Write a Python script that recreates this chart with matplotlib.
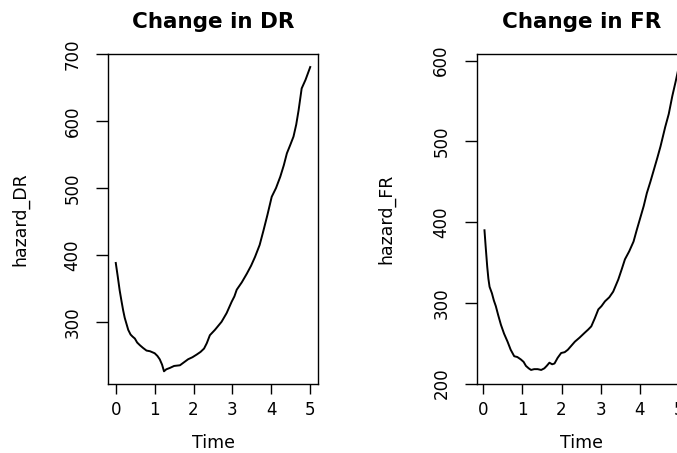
import matplotlib
matplotlib.use("Agg")
import matplotlib.pyplot as plt

# ---- data ----
time_dr = [0.00, 0.05, 0.10, 0.15, 0.19, 0.23, 0.27, 0.32, 0.38, 0.43, 0.49, 0.55, 0.62, 0.70,
           0.79, 0.88, 1.00, 1.07, 1.13, 1.19, 1.24, 1.30, 1.39, 1.50, 1.65, 1.72, 1.86, 1.97,
           2.08, 2.18, 2.27, 2.34, 2.42, 2.55, 2.72, 2.85, 2.98, 3.05, 3.11, 3.24, 3.37, 3.48,
           3.58, 3.70, 3.80, 3.90, 4.01, 4.12, 4.23, 4.32, 4.40, 4.49, 4.57, 4.64, 4.70, 4.78,
           4.88, 5.00]
hazard_dr = [388, 368, 347, 330, 317, 306, 298, 288, 281, 278, 275, 269, 265, 261,
             257, 256, 253, 249, 244, 236, 226, 229, 231, 234, 235, 238, 244, 247,
             251, 255, 260, 268, 280, 288, 300, 313, 330, 338, 348, 359, 372, 384,
             397, 415, 437, 460, 487, 500, 517, 534, 552, 565, 577, 595, 616, 649,
             662, 681]

time_fr = [0.03, 0.06, 0.10, 0.13, 0.16, 0.22, 0.27, 0.32, 0.38, 0.45, 0.53, 0.62, 0.70,
           0.79, 0.87, 0.96, 1.03, 1.09, 1.16, 1.22, 1.30, 1.39, 1.48, 1.56, 1.62, 1.69,
           1.76, 1.82, 1.90, 1.99, 2.08, 2.16, 2.25, 2.34, 2.46, 2.59, 2.68, 2.76, 2.85,
           2.94, 3.02, 3.11, 3.22, 3.32, 3.45, 3.54, 3.62, 3.73, 3.84, 3.92, 4.01, 4.10,
           4.18, 4.27, 4.36, 4.45, 4.53, 4.65, 4.74, 4.83, 4.92, 5.00]
hazard_fr = [390, 370, 345, 330, 320, 312, 303, 296, 285, 273, 262, 252, 242,
             234, 233, 230, 227, 222, 219, 217, 218, 218, 217, 219, 222, 226,
             224, 225, 232, 238, 239, 242, 247, 252, 257, 263, 267, 271, 281,
             292, 296, 302, 307, 314, 329, 342, 354, 364, 376, 390, 405, 420,
             436, 450, 465, 480, 494, 518, 534, 556, 575, 593]

panels = [
    dict(x=time_dr, y=hazard_dr, title="Change in DR", ylabel="hazard_DR",
         yticks=[300, 400, 500, 600, 700], ylim=(207, 700.5), lpx=108, ylab_px=20),
    dict(x=time_fr, y=hazard_fr, title="Change in FR", ylabel="hazard_FR",
         yticks=[200, 300, 400, 500, 600], ylim=(199.6, 608.3), lpx=476.7, ylab_px=386.7),
]
xticks = [0, 1, 2, 3, 4, 5]

W, H = 677, 453
fig = plt.figure(figsize=(W / 100, H / 100), dpi=100)
plt.rcParams['font.family'] = ['DejaVu Sans']

ax_w_px = 210
ax_top_px, ax_bot_px = 54, 384

for p in panels:
    lpx = p["lpx"]
    ax = fig.add_axes([lpx / W, 1 - ax_bot_px / H, ax_w_px / W, (ax_bot_px - ax_top_px) / H])
    ax.plot(p["x"], p["y"], color="black", lw=1.4)
    ax.set_xticks(xticks)
    ax.set_yticks(p["yticks"])
    ax.margins(x=0.04)
    ax.set_ylim(*p["ylim"])
    for s in ax.spines.values():
        s.set_linewidth(1.0)
        s.set_color("black")
    ax.tick_params(axis="x", length=7, width=1, pad=5, labelsize=12)
    ax.tick_params(axis="y", length=9, width=1, pad=10, labelsize=12, labelrotation=90)
    for lab in ax.get_yticklabels():
        lab.set_va("center")
    ax.set_title(p["title"], fontsize=15.5, fontweight="bold", pad=19)
    ax.set_xlabel("Time", fontsize=12.5, va="center")
    ax.xaxis.set_label_coords(0.5, -59 / (ax_bot_px - ax_top_px))
    ax.set_ylabel(p["ylabel"], fontsize=12.5, va="center")
    ax.yaxis.set_label_coords(-(lpx - p["ylab_px"]) / ax_w_px, 0.5)

fig.savefig("out.png", dpi=100)
